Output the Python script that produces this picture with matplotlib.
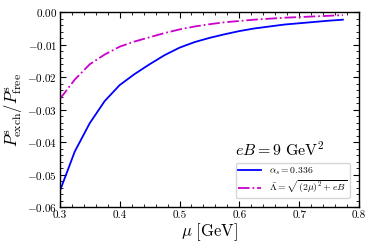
import numpy as np
import matplotlib
matplotlib.use("Agg")
import matplotlib.pyplot as plt
from matplotlib.ticker import MultipleLocator

plt.rcParams["font.family"] = "serif"
plt.rcParams["font.serif"] = ["cmr10"]
plt.rcParams["mathtext.fontset"] = "cm"
plt.rcParams["axes.unicode_minus"] = False
plt.rcParams["axes.formatter.use_mathtext"] = True

# values
mu = [0.3, 0.325, 0.35, 0.375, 0.4, 0.425, 0.45, 0.475, 0.5, 0.525, 0.55, 0.575,
      0.6, 0.625, 0.65, 0.675, 0.7, 0.725, 0.75, 0.773]
ratio_alpha = [-0.0550, -0.0428, -0.0341, -0.0273, -0.0224, -0.0190, -0.0160, -0.0132,
               -0.0109, -0.0092, -0.0079, -0.0068, -0.0058, -0.0050, -0.0044, -0.0038,
               -0.0034, -0.0030, -0.0026, -0.0023]
ratio_lambda = [-0.0267, -0.0207, -0.0160, -0.0130, -0.0106, -0.0090, -0.0077, -0.0064,
                -0.0053, -0.0044, -0.0037, -0.0031, -0.0027, -0.0023, -0.0020, -0.0017,
                -0.0015, -0.0013, -0.0011, -0.0009]

fig = plt.figure(figsize=(3.74, 2.49), dpi=100)
ax = fig.add_axes([0.160, 0.167, 0.800, 0.784])

ax.plot(mu, ratio_alpha, color="blue", lw=1.3, label=r"$\alpha_s = 0.336$")
ax.plot(mu, ratio_lambda, color="#cc00cc", lw=1.3, ls="-.",
        label=r"$\bar{\Lambda} = \sqrt{(2\mu)^2 + eB}$")

ax.set_xlim(0.3, 0.8)
ax.set_ylim(-0.06, 0.0)
ax.xaxis.set_major_locator(MultipleLocator(0.1))
ax.xaxis.set_minor_locator(MultipleLocator(0.02))
ax.yaxis.set_major_locator(MultipleLocator(0.01))
ax.yaxis.set_minor_locator(MultipleLocator(0.002))
ax.xaxis.set_major_formatter(plt.FuncFormatter(lambda v, p: f"{v:.1f}"))
ax.yaxis.set_major_formatter(plt.FuncFormatter(lambda v, p: f"${v:.2f}$"))
ax.tick_params(which="both", direction="in", top=True, right=True, labelsize=8, pad=2)
ax.tick_params(which="major", length=4)
ax.tick_params(which="minor", length=2)
for s in ax.spines.values():
    s.set_linewidth(1.0)

ax.set_xlabel(r"$\mu\ [\mathrm{GeV}]$", fontsize=12, labelpad=1)
ax.set_ylabel(r"$P^{\rm s}_{\rm exch}/P^{\rm s}_{\rm free}$", fontsize=12, labelpad=2)

ax.text(0.585, 0.25, r"$eB = 9\ \mathrm{GeV}^2$", transform=ax.transAxes,
        fontsize=11.5, ha="left", va="bottom")
ax.legend(loc="lower right", fontsize=7, frameon=True, fancybox=True,
          handlelength=2.4, borderpad=0.25, labelspacing=0.15, handletextpad=0.8,
          bbox_to_anchor=(0.985, 0.025))

fig.savefig("out.png", dpi=100)
